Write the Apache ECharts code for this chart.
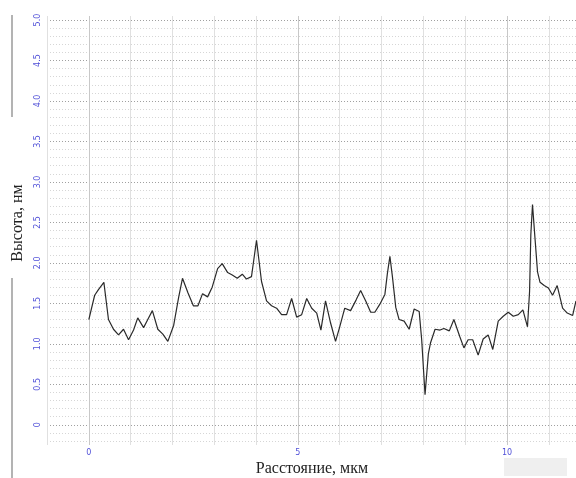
<!DOCTYPE html>
<html>
<head>
<meta charset="utf-8">
<script src="https://cdn.jsdelivr.net/npm/echarts@6/dist/echarts.min.js"></script>
<style>
html,body{margin:0;padding:0;background:#fff;}
#chart{width:576px;height:478px;}
</style>
</head>
<body>
<div id="chart"></div>
<script>
// Distance, µm
const distance = [0.00,0.14,0.23,0.36,0.47,0.59,0.71,0.83,0.95,1.07,1.17,1.31,1.41,1.52,1.65,1.77,1.89,2.03,2.15,2.24,2.37,2.50,2.61,2.72,2.84,2.95,3.08,3.19,3.32,3.43,3.55,3.67,3.77,3.89,4.01,4.13,4.25,4.37,4.49,4.61,4.73,4.85,4.97,5.09,5.21,5.33,5.45,5.55,5.66,5.78,5.90,6.00,6.12,6.26,6.39,6.50,6.63,6.74,6.84,6.96,7.08,7.14,7.20,7.26,7.34,7.42,7.54,7.66,7.78,7.90,7.96,8.04,8.12,8.17,8.28,8.40,8.49,8.62,8.73,8.87,8.97,9.07,9.18,9.31,9.43,9.55,9.66,9.79,9.91,10.03,10.15,10.27,10.38,10.49,10.54,10.57,10.61,10.67,10.73,10.79,10.89,10.99,11.09,11.20,11.33,11.44,11.57,11.65];
// Height, nm
const height = [1.30,1.60,1.67,1.76,1.30,1.18,1.11,1.18,1.05,1.17,1.32,1.20,1.30,1.41,1.18,1.12,1.03,1.23,1.58,1.81,1.63,1.47,1.47,1.62,1.58,1.70,1.93,1.99,1.88,1.85,1.81,1.86,1.80,1.83,2.28,1.77,1.53,1.47,1.44,1.36,1.36,1.56,1.33,1.36,1.56,1.44,1.38,1.17,1.53,1.26,1.03,1.21,1.44,1.41,1.54,1.66,1.52,1.39,1.39,1.49,1.61,1.87,2.08,1.83,1.45,1.30,1.28,1.18,1.43,1.40,1.05,0.37,0.88,1.01,1.18,1.17,1.19,1.16,1.30,1.09,0.95,1.05,1.05,0.86,1.06,1.11,0.93,1.28,1.34,1.39,1.34,1.36,1.42,1.21,1.65,2.35,2.72,2.30,1.89,1.76,1.72,1.69,1.60,1.72,1.44,1.38,1.35,1.53];

const xTickValues = [0, 5, 10];
const xTickLabels = ['0', '5', '10'];
const yTickValues = [0, 0.5, 1.0, 1.5, 2.0, 2.5, 3.0, 3.5, 4.0, 4.5, 5.0];
const yTickLabels = ['0', '0.5', '1.0', '1.5', '2.0', '2.5', '3.0', '3.5', '4.0', '4.5', '5.0'];

const xTitle = 'Расстояние, мкм';
const yTitle = 'Высота, нм';

const points = distance.map((d, i) => [d, height[i]]);

function lookup(values, labels, v) {
  for (let i = 0; i < values.length; i++) {
    if (Math.abs(values[i] - v) < 1e-6) return labels[i];
  }
  return '';
}

const chart = echarts.init(document.getElementById('chart'), null, {renderer: 'canvas'});
const T = 'rgba(0,0,0,0)';
const minorC = '#d6d6d6';
const majorC = '#a0a0a0';

chart.setOption({
  animation: false,
  backgroundColor: '#ffffff',
  grid: {left: 47, right: 0, top: 16, bottom: 33, containLabel: false, outerBoundsMode: 'none'},
  xAxis: {
    type: 'value',
    min: -1,
    max: 11.65,
    interval: 1,
    axisLine: {show: false},
    axisTick: {show: false},
    axisLabel: {
      show: true,
      margin: 4,
      fontSize: 8,
      fontFamily: 'DejaVu Sans',
      color: '#5050d8',
      showMinLabel: true,
      showMaxLabel: true,
      formatter: v => lookup(xTickValues, xTickLabels, v)
    },
    splitLine: {
      show: true,
      lineStyle: {color: ['#e0e0e0', '#c8c8c8', '#e0e0e0', '#e0e0e0', '#e0e0e0'], width: 1, type: 'solid'}
    }
  },
  yAxis: {
    type: 'value',
    min: -0.25,
    max: 5.05,
    interval: 0.05,
    axisLine: {show: false},
    axisTick: {show: false},
    axisLabel: {
      show: true,
      rotate: 90,
      margin: 5,
      fontSize: 8,
      fontFamily: 'DejaVu Sans',
      color: '#5050d8',
      formatter: v => lookup(yTickValues, yTickLabels, v)
    },
    splitLine: {
      show: true,
      lineStyle: {
        color: [T, minorC, T, minorC, T, majorC, T, minorC, T, minorC],
        width: 1,
        type: [1, 2]
      }
    }
  },
  series: [{
    type: 'line',
    data: points,
    showSymbol: false,
    symbol: 'none',
    smooth: false,
    lineStyle: {color: '#2a2a2a', width: 1.2},
    z: 5
  }],
  graphic: [
    {type: 'line', shape: {x1: 12, y1: 15, x2: 12, y2: 117}, style: {stroke: '#9a9a9a', lineWidth: 1.5}},
    {type: 'line', shape: {x1: 12, y1: 278, x2: 12, y2: 478}, style: {stroke: '#9a9a9a', lineWidth: 1.5}},
    {type: 'rect', shape: {x: 504, y: 458, width: 63, height: 18}, style: {fill: '#efefef'}},
    {type: 'text', x: 18, y: 223, rotation: Math.PI / 2,
     style: {text: yTitle, font: '16px "Liberation Serif"', fill: '#222', align: 'center', verticalAlign: 'middle'}},
    {type: 'text', x: 312, y: 469,
     style: {text: xTitle, font: '16px "Liberation Serif"', fill: '#222', align: 'center', verticalAlign: 'middle'}}
  ]
});
</script>
</body>
</html>
